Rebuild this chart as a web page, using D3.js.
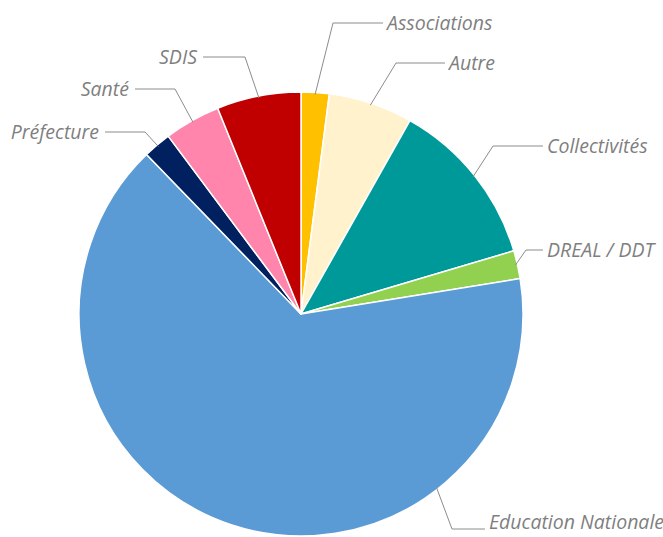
<!DOCTYPE html>
<html>
<head>
<meta charset="utf-8">
<script src="https://cdn.jsdelivr.net/npm/d3@7"></script>
<style>
  body { margin: 0; background: #fff; }
  svg { display: block; }
</style>
</head>
<body>
<div id="chart"></div>
<script>

const width = 663 ;
const height = 537 ;

// categories and counts, clockwise from 12 o'clock
const categories = [ "Associations", "Autre", "Collectivités", "DREAL / DDT", "Education Nationale", "Préfecture", "Santé", "SDIS" ] ;
const values = [ 1, 3, 6, 1, 32, 1, 2, 3 ] ;
const colors = [ "#FFC000", "#FFF2CC", "#009999", "#92D050", "#5B9BD5", "#002060", "#FF85AD", "#C00000" ] ;

// label layout: elbow and end of each leader line (relative to pie centre)
const labelElbow = [ [32,-291], [95,-251], [192,-168], [225,-64], [151,215], [-156,-182], [-126,-225], [-56,-257] ] ;
const labelEnd   = [ [82,-291], [144,-251], [242,-168], [242,-64], [184,215], [-196,-182], [-166,-225], [-98,-257] ] ;
const labelShift = [ 0, 0, 0, 0, -7, 0, 0, 0 ] ;
// leader start angle override in degrees (null = slice middle)
const leaderAngle = [ null, null, null, null, 142, null, null, null ] ;

const cx = 301 ;
const cy = 314 ;
const radius = 222 ;

const svg = d3.select( "#chart" ).append( "svg" )
	.attr( "width", width )
	.attr( "height", height )
	.attr( "viewBox", "0 0 " + width + " " + height ) ;

const g = svg.append( "g" ).attr( "transform", "translate(" + cx + "," + cy + ")" ) ;

const pie = d3.pie().sort( null ).value( function(d) { return d ; } ) ;
const arcs = pie( values ) ;

const arc = d3.arc().innerRadius( 0 ).outerRadius( radius ) ;

g.selectAll( "path.slice" )
	.data( arcs )
	.enter().append( "path" )
		.attr( "class", "slice" )
		.attr( "d", arc )
		.attr( "fill", function(d, i) { return colors[i] ; } )
		.attr( "stroke", "#fff" )
		.attr( "stroke-width", 1.5 )
		.attr( "stroke-linejoin", "round" ) ;

function leaderStart( d, i ) {
	const a = leaderAngle[i] !== null ? leaderAngle[i] * Math.PI / 180 : ( d.startAngle + d.endAngle ) / 2 ;
	const r = radius - 2 ;
	return [ r * Math.sin( a ), -r * Math.cos( a ) ] ;
}

// leader lines
g.selectAll( "polyline" )
	.data( arcs )
	.enter().append( "polyline" )
		.attr( "points", function(d, i) {
			return [ leaderStart( d, i ), labelElbow[i], labelEnd[i] ].map( function(q) { return q.join( "," ) ; } ).join( " " ) ;
		} )
		.attr( "fill", "none" )
		.attr( "stroke", "#8c8c8c" )
		.attr( "stroke-width", 1 ) ;

g.selectAll( "text" )
	.data( arcs )
	.enter().append( "text" )
		.attr( "x", function(d, i) { return labelEnd[i][0] + ( labelEnd[i][0] > labelElbow[i][0] ? 4 : -6 ) ; } )
		.attr( "y", function(d, i) { return labelEnd[i][1] + labelShift[i] ; } )
		.attr( "dy", "0.35em" )
		.attr( "text-anchor", function(d, i) { return labelEnd[i][0] > labelElbow[i][0] ? "start" : "end" ; } )
		.style( "font-family", "'Open Sans', sans-serif" )
		.style( "font-style", "italic" )
		.style( "font-size", "19.5px" )
		.attr( "fill", "#7f7f7f" )
		.text( function(d, i) { return categories[i] ; } ) ;

</script>
</body>
</html>
